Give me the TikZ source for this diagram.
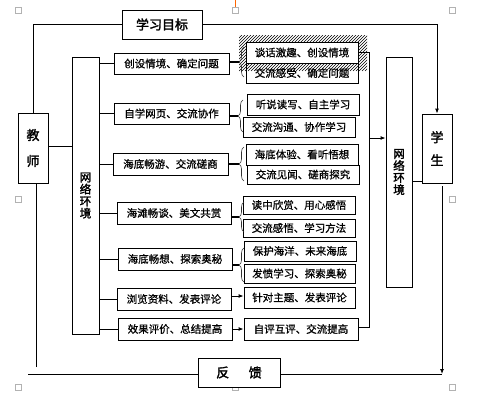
\documentclass[tikz,border=0pt]{standalone}
\usepackage{fontspec}
\setmainfont{Noto Sans CJK SC}
\newfontfamily\cjkb{Noto Sans CJK SC}[FakeBold=2]
\newfontfamily\cjkm{Noto Sans CJK SC}[FakeBold=0.8]
\usetikzlibrary{arrows.meta,decorations.pathreplacing}
\begin{document}
\begin{tikzpicture}[x=1pt,y=-1pt,line width=0.9pt,
 box/.style={draw, line width=0.9pt, inner sep=0pt, fill=white, font=\cjkm\fontsize{10.5}{12}\selectfont},
 lbox/.style={box, minimum width=114pt, minimum height=22pt},
 rbox/.style={box, minimum width=112pt, minimum height=20pt},
 bigbox/.style={draw, line width=0.9pt, inner sep=0pt, fill=white, align=center, font=\cjkb\fontsize{13}{14}\selectfont},
 netbox/.style={draw, line width=0.9pt, inner sep=0pt, fill=white, align=center, font=\cjkb\fontsize{11.5}{12}\selectfont},
 arr/.style={-{Latex[length=5pt,width=4pt]}},
 brc/.style={decorate, decoration={brace, amplitude=5pt}, line width=0.6pt, draw=black!80},
 stub/.style={line width=1.8pt},
 handle/.style={draw=gray!60, line width=0.6pt, fill=white}
]
\useasboundingbox (0,0) rectangle (494,413);

% Word selection handles
\foreach \hx/\hy in {18/10,235/10,452/10,18/199,452/199,18/387,235/387,452/387}
  \draw[handle] (\hx-3,\hy-3) rectangle (\hx+3,\hy+3);
\draw[orange!80!red, line width=0.6pt] (235.7,0) -- (235.7,7);

% main boxes
\node[bigbox, minimum width=80pt, minimum height=29pt] (goal) at (162,24.5) {学习目标};
\node[bigbox, minimum width=30pt, minimum height=70pt] (teacher) at (33,148) {教\\[12pt]师};
\node[bigbox, minimum width=30pt, minimum height=69pt] (student) at (437,148.5) {学\\[9pt]生};
\node[netbox, minimum width=27pt, minimum height=277pt] (netL) at (85.5,195.5) {网\\络\\环\\境};
\node[netbox, minimum width=26pt, minimum height=230pt] (netR) at (399,172) {网\\络\\环\\境};
\node[bigbox, minimum width=82pt, minimum height=29pt] (fb) at (239,372.5) {反\hspace{1.5em}馈};

% left column
\node[lbox, minimum width=115pt, minimum height=21pt] (L1) at (171.5,63.5) {创设情境、确定问题};
\node[lbox, minimum width=115pt, minimum height=21pt] (L2) at (171.5,113.5) {自学网页、交流协作};
\node[lbox, minimum width=115pt] (L3) at (170.5,164) {海底畅游、交流磋商};
\node[lbox] (L4) at (174,213) {海滩畅谈、美文共赏};
\node[lbox] (L5) at (175,259) {海底畅想、探索奥秘};
\node[lbox] (L6) at (174,299) {浏览资料、发表评论};
\node[lbox] (L7) at (175,329) {效果评价、总结提高};

% right column
\node[rbox, fill=none] (R1b) at (302,73) {交流感受、确定问题};
\begin{scope}
  \clip (239,35) rectangle (367,71);
  \foreach \i in {0,...,60} \draw[line width=0.6pt] (200+\i*3,71) -- (236+\i*3,35);
\end{scope}
\node[rbox, minimum height=21pt] (R1a) at (302,52.5) {谈话激趣、创设情境};
\node[rbox, minimum height=21pt] (R2a) at (303,104.5) {听说读写、自主学习};
\node[rbox] (R2b) at (299,127) {交流沟通、协作学习};
\node[rbox, minimum height=21pt] (R3a) at (302,154.5) {海底体验、看听悟想};
\node[rbox, minimum height=19pt] (R3b) at (303,174.5) {交流见闻、磋商探究};
\node[rbox, minimum height=18pt] (R4a) at (299,205) {读中欣赏、用心感悟};
\node[rbox, minimum height=18pt] (R4b) at (299,228) {交流感悟、学习方法};
\node[rbox] (R5a) at (300,251) {保护海洋、未来海底};
\node[rbox, minimum width=111pt, minimum height=19pt] (R5b) at (299.5,273.5) {发愤学习、探索奥秘};
\node[rbox, minimum width=111pt, minimum height=21pt] (R6) at (299.5,297.5) {针对主题、发表评论};
\node[rbox, minimum width=114pt, minimum height=22pt] (R7) at (301,329) {自评互评、交流提高};

% braces
\draw[brc] (244,77) -- (244,47);
\draw[brc] (243,132) -- (243,100);
\draw[brc] (244,181) -- (244,147);
\draw[brc] (244,232) -- (244,202);
\draw[brc] (244,282) -- (244,248);
\coordinate (t1) at (239,62);
\coordinate (t2) at (238,116);
\coordinate (t3) at (239,164);
\coordinate (t4) at (239,217);
\coordinate (t5) at (239,265);
\draw[stub] (t1 -| L1.east) -- (t1);
\draw[stub] (t2 -| L2.east) -- (t2);
\draw[stub] (t3 -| L3.east) -- (t3);
\draw[stub] (t4 -| L4.east) -- (t4);
\draw[stub] (t5 -| L5.east) -- (t5);

% left network links
\draw (L1.west) -- (L1.west -| netL.east);
\draw (L2.west) -- (L2.west -| netL.east);
\draw (L3.west) -- (L3.west -| netL.east);
\draw (L4.west) -- (L4.west -| netL.east);
\draw (L5.west) -- (L5.west -| netL.east);
\draw (L6.west) -- (L6.west -| netL.east);
\draw (L7.west) -- (L7.west -| netL.east);
\draw (teacher.east |- 0,146) -- (netL.west |- 0,146);

% arrows to single boxes
\draw[arr] (L6.east |- 0,296) -- (R6.west |- 0,296);
\draw[arr] (L7.east) -- (R7.west);

% right collecting line
\coordinate (rvT) at (369,52.5);
\coordinate (rvB) at (369,327);
\coordinate (rj) at (369,138);
\draw (R1a.east) -- (rvT) -- (rvB) -- (R7.east |- rvB);
\draw[arr] (rj) -- (rj -| netR.west);
\draw (netR.east |- 0,181) -- (student.west |- 0,181);

% goal lines
\draw (goal.west) -| (teacher.north);
\draw[arr] (goal.east) -| (student.north);

% feedback loop
\coordinate (fbL) at (28,374);
\coordinate (fbR) at (442,374);
\coordinate (tB) at (36,367);
\coordinate (sB) at (442,186);
\draw (fbL) -- (fb.west |- fbL);
\draw (fb.east |- fbR) -- (fbR);
\draw[arr] (sB) -- (fbR);
\draw (tB) -- (tB |- teacher.south);
\end{tikzpicture}
\end{document}
